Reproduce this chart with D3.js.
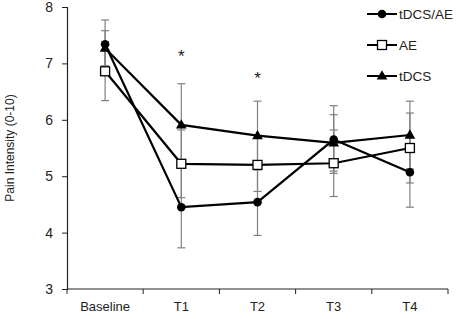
<!DOCTYPE html>
<html>
<head>
<meta charset="utf-8">
<script src="https://cdn.jsdelivr.net/npm/d3@7"></script>
<style>
  body { margin: 0; background: #fff; }
  text { font-family: "Liberation Sans", Arial, sans-serif; fill: #222; }
</style>
</head>
<body>
<div id="chart"></div>
<script>
var categories = ["Baseline", "T1", "T2", "T3", "T4"];
var yTicks = [3, 4, 5, 6, 7, 8];

var tdcsAe = [7.34, 4.45, 4.54, 5.65, 5.07];
var tdcsAeErr = [0.43, 0.72, 0.59, 0.60, 0.62];
var ae = [6.86, 5.22, 5.20, 5.23, 5.50];
var aeErr = [0.52, 0.60, 0.47, 0.59, 0.62];
var tdcs = [7.27, 5.91, 5.72, 5.59, 5.73];
var tdcsErr = [0.31, 0.73, 0.61, 0.50, 0.60];

var seriesNames = ["tDCS/AE", "AE", "tDCS"];
var significant = ["T1", "T2"];

var width = 456, height = 319;
var margin = { top: 7, right: 8, bottom: 30, left: 67 };

var svg = d3.select("#chart")
    .append("svg")
    .attr("width", width)
    .attr("height", height);

var x = d3.scaleBand()
    .domain(categories)
    .range([margin.left, width - margin.right])
    .padding(0);

var y = d3.scaleLinear()
    .domain([3, 8])
    .range([height - margin.bottom, margin.top]);

var series = [
    { name: seriesNames[0], values: tdcsAe, err: tdcsAeErr, shape: "circle" },
    { name: seriesNames[1], values: ae, err: aeErr, shape: "square" },
    { name: seriesNames[2], values: tdcs, err: tdcsErr, shape: "triangle" }
];

// y axis
svg.append("g")
    .attr("transform", "translate(" + margin.left + ",0)")
    .call(d3.axisLeft(y).tickValues(yTicks).tickFormat(d3.format("d")).tickSize(5).tickPadding(9))
    .call(function (g) {
        g.select(".domain").attr("stroke", "#222").attr("stroke-width", 1.2);
        g.selectAll(".tick line").attr("stroke", "#222");
        g.selectAll(".tick text").style("font-size", "14px").attr("fill", "#222");
    });

// x axis, ticks sit on the band edges
var xAxisY = y(3);
var gx = svg.append("g");
gx.append("line")
    .attr("x1", margin.left).attr("x2", width - margin.right)
    .attr("y1", xAxisY).attr("y2", xAxisY)
    .attr("stroke", "#222").attr("stroke-width", 1.2);
var edges = categories.map(function (c) { return x(c); }).concat([x(categories[4]) + x.bandwidth()]);
gx.selectAll("line.tk")
    .data(edges)
    .join("line")
    .attr("class", "tk")
    .attr("x1", function (d) { return d; }).attr("x2", function (d) { return d; })
    .attr("y1", xAxisY).attr("y2", xAxisY + 5)
    .attr("stroke", "#222");
gx.selectAll("text")
    .data(categories)
    .join("text")
    .attr("x", function (d) { return x(d) + x.bandwidth() / 2; })
    .attr("y", xAxisY + 22)
    .attr("text-anchor", "middle")
    .style("font-size", "13px")
    .text(function (d) { return d; });

// y axis title
svg.append("text")
    .attr("transform", "translate(14," + ((y(3) + y(8)) / 2) + ") rotate(-90)")
    .attr("text-anchor", "middle")
    .style("font-size", "12px")
    .text("Pain Intensity (0-10)");

var cx = function (i) { return x(categories[i]) + x.bandwidth() / 2; };

// error bars
series.forEach(function (s) {
    var g = svg.append("g").attr("stroke", "#808080").attr("stroke-width", 1.2);
    s.values.forEach(function (v, i) {
        var lo = y(v - s.err[i]), hi = y(v + s.err[i]);
        g.append("line").attr("x1", cx(i)).attr("x2", cx(i)).attr("y1", lo).attr("y2", hi);
        g.append("line").attr("x1", cx(i) - 4).attr("x2", cx(i) + 4).attr("y1", lo).attr("y2", lo);
        g.append("line").attr("x1", cx(i) - 4).attr("x2", cx(i) + 4).attr("y1", hi).attr("y2", hi);
    });
});

var line = d3.line()
    .x(function (d, i) { return cx(i); })
    .y(function (d) { return y(d); });

function drawMarker(g, shape, px, py) {
    if (shape === "circle") {
        g.append("circle").attr("cx", px).attr("cy", py).attr("r", 4.3).attr("fill", "#000");
    } else if (shape === "square") {
        g.append("rect").attr("x", px - 4.5).attr("y", py - 4.5).attr("width", 9).attr("height", 9)
            .attr("fill", "#fff").attr("stroke", "#000").attr("stroke-width", 1.3);
    } else {
        g.append("path")
            .attr("d", d3.symbol().type(d3.symbolTriangle).size(50)())
            .attr("transform", "translate(" + px + "," + (py + 0.5) + ")")
            .attr("fill", "#000");
    }
}

// lines and markers
series.forEach(function (s) {
    svg.append("path")
        .datum(s.values)
        .attr("fill", "none")
        .attr("stroke", "#000")
        .attr("stroke-width", 2.2)
        .attr("d", line);
});
series.forEach(function (s) {
    var g = svg.append("g");
    s.values.forEach(function (v, i) { drawMarker(g, s.shape, cx(i), y(v)); });
});

// significance stars
svg.selectAll("text.star")
    .data(significant)
    .join("text")
    .attr("class", "star")
    .attr("x", function (d) { return x(d) + x.bandwidth() / 2; })
    .attr("y", function (d, i) { return i === 0 ? 62 : 84; })
    .attr("text-anchor", "middle")
    .style("font-size", "17px")
    .text("*");

// legend
var legend = svg.append("g");
series.forEach(function (s, i) {
    var ly = 14 + i * 31;
    legend.append("line")
        .attr("x1", 367).attr("x2", 397).attr("y1", ly).attr("y2", ly)
        .attr("stroke", "#000").attr("stroke-width", 2);
    drawMarker(legend, s.shape, 382, ly);
    legend.append("text")
        .attr("x", 399).attr("y", ly + 5)
        .style("font-size", "13.5px")
        .text(s.name);
});
</script>
</body>
</html>
